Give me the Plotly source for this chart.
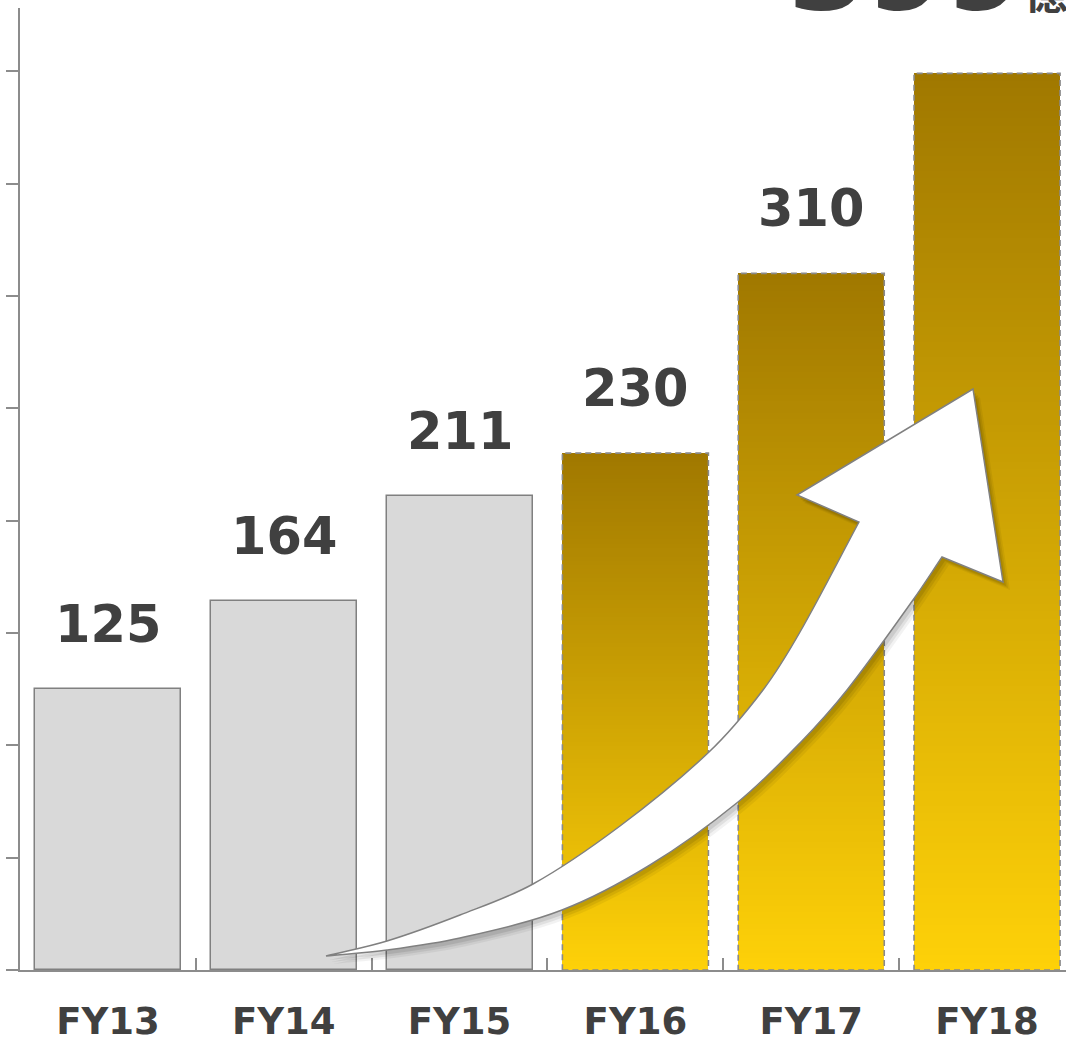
import math
import plotly.graph_objects as go

# ---------------- data ----------------
categories = ["FY13", "FY14", "FY15", "FY16", "FY17", "FY18"]
values = [125, 164, 211, 230, 310, 399]
actual_count = 3            # first three are actuals (gray), rest are plan (gold)
value_labels = ["125", "164", "211", "230", "310"]
headline_number = "399"
headline_unit = "億"
y_ticks = [0, 50, 100, 150, 200, 250, 300, 350, 400]

# ---------------- style ----------------
W, H = 1066, 1038
ML, MR, MT, MB = 20, 0, 8, 68
PW, PH = W - ML - MR, H - MT - MB
Y_MAX = 428.1
X_RANGE = [-0.5, 5.449]
BAR_W = 0.8305
AXIS_COLOR = "#8c8c8c"
TEXT_COLOR = "#404040"
GRAY_FILL = "#d9d9d9"
GRAY_LINE = "#808080"
GOLD_TOP = (160, 120, 0)
GOLD_BOTTOM = (254, 209, 8)
N_SEG = 120

fig = go.Figure()

# actual (gray) bars
fig.add_trace(go.Bar(
    x=categories[:actual_count], y=values[:actual_count], width=BAR_W,
    marker=dict(color=GRAY_FILL, line=dict(color=GRAY_LINE, width=1.5)),
    hoverinfo="skip", showlegend=False))

# plan (gold) bars with vertical gradient, built as thin stacked slices
xs, hs, bs, cs = [], [], [], []
for cat, v in zip(categories[actual_count:], values[actual_count:]):
    for k in range(N_SEG):
        f = (k + 0.5) / N_SEG
        r = round(GOLD_BOTTOM[0] + (GOLD_TOP[0] - GOLD_BOTTOM[0]) * f)
        g = round(GOLD_BOTTOM[1] + (GOLD_TOP[1] - GOLD_BOTTOM[1]) * f)
        b = round(GOLD_BOTTOM[2] + (GOLD_TOP[2] - GOLD_BOTTOM[2]) * f)
        xs.append(cat)
        hs.append(v / N_SEG)
        bs.append(v * k / N_SEG)
        cs.append(f"rgb({r},{g},{b})")
fig.add_trace(go.Bar(
    x=xs, y=hs, base=bs, width=BAR_W,
    marker=dict(color=cs, line=dict(width=0)),
    hoverinfo="skip", showlegend=False))

shapes = []
# dashed outline of plan bars
for i in range(actual_count, len(categories)):
    shapes.append(dict(type="rect", xref="x", yref="y",
                       x0=i - BAR_W / 2, x1=i + BAR_W / 2, y0=0, y1=values[i],
                       line=dict(color="#8a8a8a", width=1.6, dash="6px,4px"),
                       layer="above"))

# ---------------- decorative arrow ----------------
def to_paper(X, Y):
    return ((X - ML) / PW, (MT + PH - Y) / PH)

def smooth(points):
    """Hermite-style smoothing with tangents scaled by segment length."""
    n = len(points)
    dirs = []
    for i in range(n):
        a = points[max(i - 1, 0)]
        b = points[min(i + 1, n - 1)]
        dx, dy = b[0] - a[0], b[1] - a[1]
        L = math.hypot(dx, dy) or 1
        dirs.append((dx / L, dy / L))
    segs = []
    for i in range(n - 1):
        p1, p2 = points[i], points[i + 1]
        d = math.hypot(p2[0] - p1[0], p2[1] - p1[1]) / 3
        c1 = (p1[0] + dirs[i][0] * d, p1[1] + dirs[i][1] * d)
        c2 = (p2[0] - dirs[i + 1][0] * d, p2[1] - dirs[i + 1][1] * d)
        segs.append((c1, c2, p2))
    return segs

upper = [(326, 956), (387, 941), (460, 915), (533, 884), (620, 826),
         (709, 752), (763, 690), (800, 632), (859, 522)]
head = [(797, 495), (973, 389), (1003, 582), (942, 557)]
lower = [(942, 557), (913, 600), (847, 690), (800, 743), (738, 802),
         (650, 865), (562, 910), (460, 938), (387, 950), (326, 956)]

def arrow_path(dx=0, dy=0):
    def fmt(p):
        x, y = to_paper(p[0] + dx, p[1] + dy)
        return f"{x:.5f},{y:.5f}"
    s = "M " + fmt(upper[0])
    for c1, c2, p in smooth(upper):
        s += f" C {fmt(c1)} {fmt(c2)} {fmt(p)}"
    for p in head:
        s += " L " + fmt(p)
    for c1, c2, p in smooth(lower):
        s += f" C {fmt(c1)} {fmt(c2)} {fmt(p)}"
    return s + " Z"

for (dx, dy, a) in [(7, 8, 0.05), (5, 6, 0.07), (3, 4, 0.09)]:
    shapes.append(dict(type="path", xref="paper", yref="paper",
                       path=arrow_path(dx, dy), fillcolor=f"rgba(0,0,0,{a})",
                       line=dict(width=0), layer="above"))
shapes.append(dict(type="path", xref="paper", yref="paper", path=arrow_path(),
                   fillcolor="white", line=dict(color="#808080", width=1.5),
                   layer="above"))

# ---------------- labels ----------------
annotations = []
for cat, v, lab in zip(categories, values, value_labels):
    annotations.append(dict(x=cat, y=v, xref="x", yref="y", text=lab,
                            showarrow=False, yanchor="bottom", yshift=33,
                            font=dict(family="DejaVu Sans", size=51,
                                      color=TEXT_COLOR, weight="bold")))
hx, hy = to_paper(786, 38)
annotations.append(dict(
    x=hx, y=hy, xref="paper", yref="paper",
    text=(headline_number
          + "<span style='font-size:44px;font-family:\"Noto Sans CJK JP\"'>"
          + headline_unit + "</span>"),
    showarrow=False, xanchor="left", yanchor="bottom",
    font=dict(family="DejaVu Sans", size=113, color=TEXT_COLOR, weight="bold")))

fig.update_layout(
    width=W, height=H,
    margin=dict(l=ML, r=MR, t=MT, b=MB, pad=0, autoexpand=False),
    paper_bgcolor="white", plot_bgcolor="white",
    barmode="overlay", bargap=0,
    shapes=shapes, annotations=annotations,
    showlegend=False,
    xaxis=dict(type="category", categoryorder="array", categoryarray=categories,
               range=X_RANGE, showgrid=False, zeroline=False, automargin=False,
               showline=True, linecolor=AXIS_COLOR, linewidth=2,
               ticks="inside", tickson="boundaries", ticklen=12,
               tickcolor=AXIS_COLOR, tickwidth=1.5,
               ticklabelstandoff=18,
               tickfont=dict(family="DejaVu Sans", size=37, color=TEXT_COLOR,
                             weight="bold"),
               fixedrange=True),
    yaxis=dict(range=[0, Y_MAX], tickvals=y_ticks, showticklabels=False,
               showgrid=False, zeroline=False, automargin=False,
               showline=True, linecolor=AXIS_COLOR, linewidth=2,
               ticks="outside", ticklen=12, tickcolor=AXIS_COLOR, tickwidth=1.5,
               fixedrange=True),
)

fig.write_html("out.html", config={"displayModeBar": False},
               post_script="document.body.style.margin='0';"
                           "document.body.style.overflow='hidden';")
